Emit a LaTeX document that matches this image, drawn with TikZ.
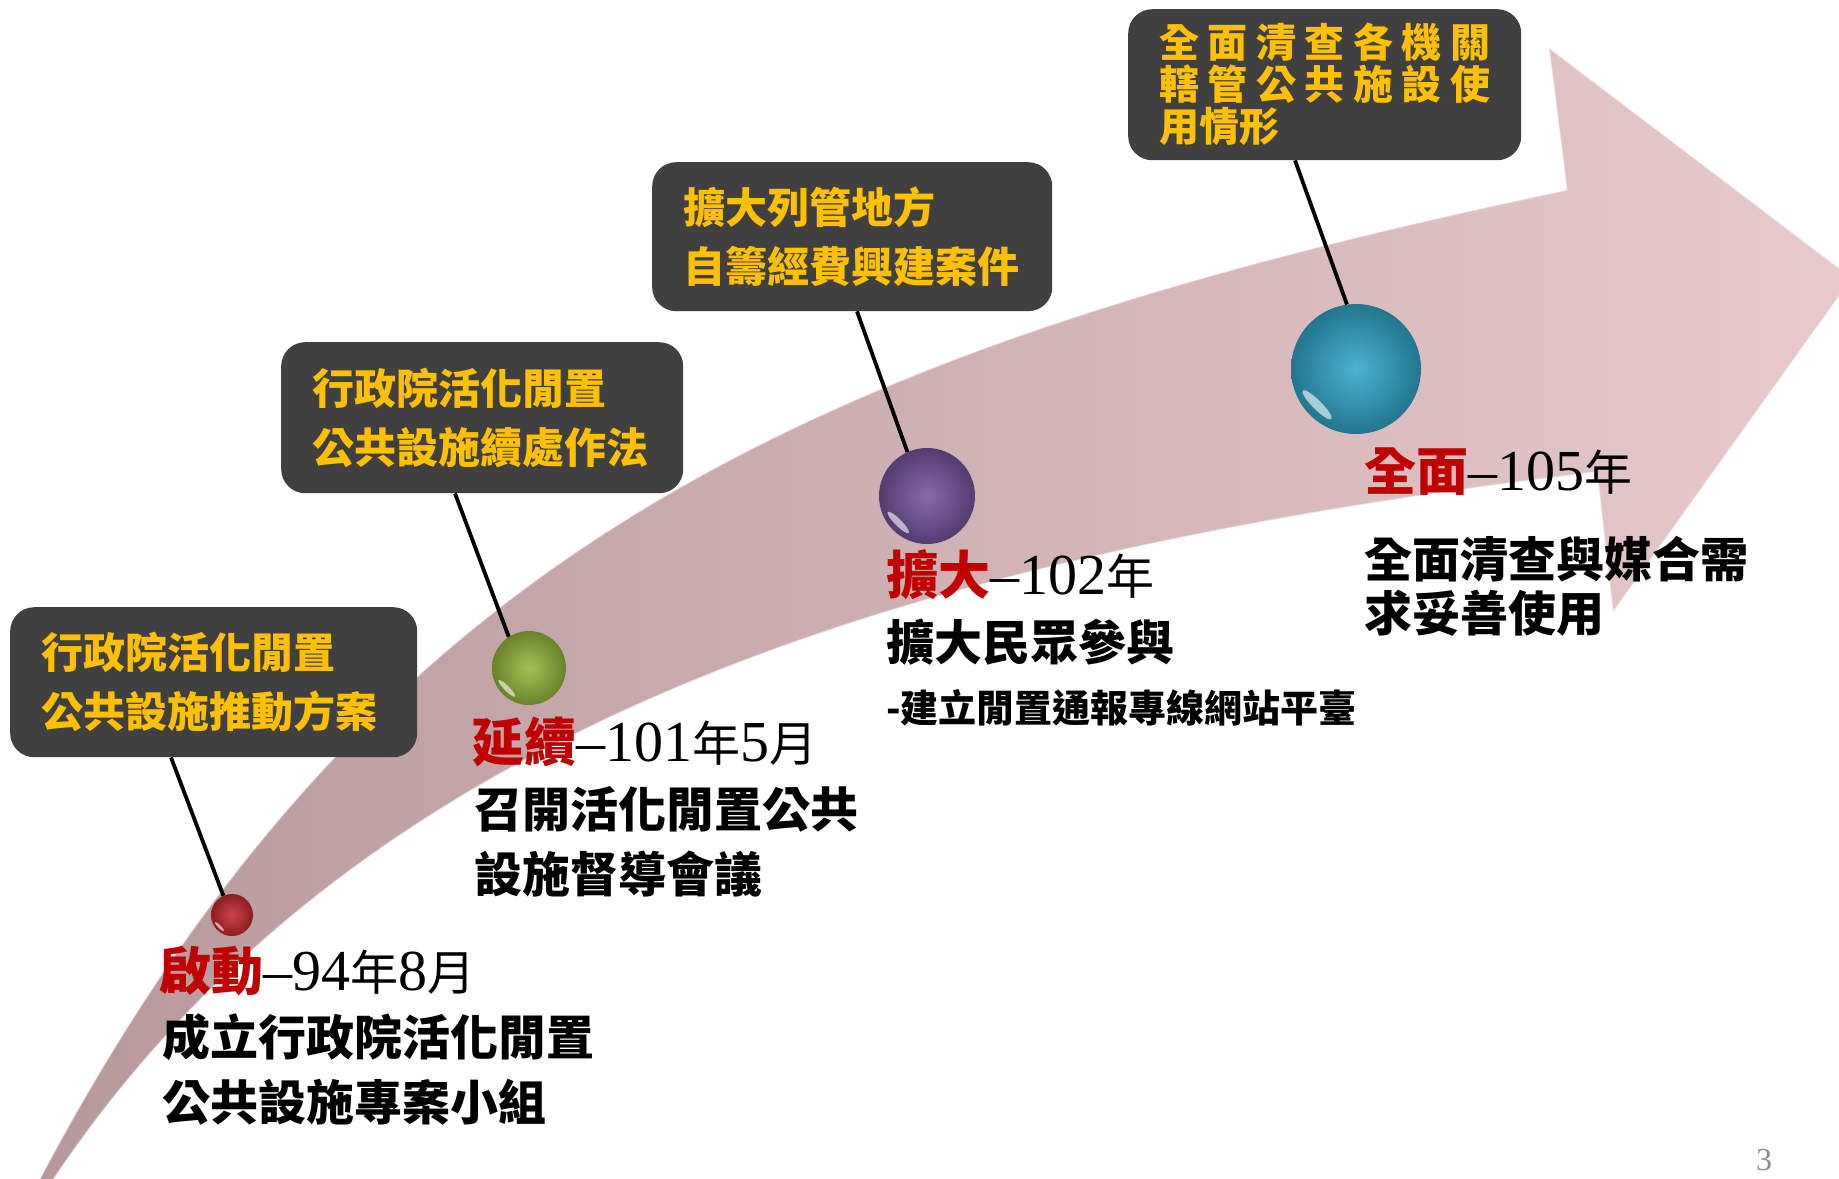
\documentclass[tikz,border=0pt]{standalone}
\usepackage{fontspec}
\setmainfont{Liberation Serif}
\newfontfamily\cjk{Noto Sans CJK TC}
\usetikzlibrary{shapes.geometric}
\definecolor{boxgray}{RGB}{64,64,64}
\definecolor{boxtext}{RGB}{255,192,0}
\definecolor{headred}{RGB}{192,0,0}
\definecolor{bandL}{RGB}{183,152,155}
\definecolor{bandR}{RGB}{232,202,205}
\definecolor{ballred}{RGB}{200,42,46}
\definecolor{ballgreen}{RGB}{150,186,60}
\definecolor{ballpurple}{RGB}{118,86,160}
\definecolor{ballcyan}{RGB}{50,168,203}
\definecolor{pagegray}{RGB}{140,140,140}
\newcommand{\bsp}{\hspace{8.5pt}}
\newcommand{\hdred}[1]{{\color{headred}\cjk\bfseries\fontsize{52}{52}\selectfont #1}}
\newcommand{\hdnum}[1]{{\fontsize{58}{58}\selectfont #1}}
\newcommand{\hdcj}[1]{{\cjk\fontsize{48}{48}\selectfont #1}}
\newcommand{\glossball}[5]{%
  \node[ballnode, minimum size=#4*2pt, inner color=#5!88!white, outer color=#5!70!black] (#1) at (#2,#3) {};
  \node[hilite, minimum width=#4*0.62pt, minimum height=#4*0.14pt, rotate=-45] (#1h) at ({#2-0.6*#4},{#3+0.55*#4}) {};
}
\tikzset{
  darkbox/.style={fill=boxgray, rounded corners=24pt, inner xsep=31pt, inner ysep=0pt,
    anchor=north west, align=left, text=boxtext, font=\cjk\bfseries\fontsize{42}{59}\selectfont},
  ballnode/.style={circle, inner sep=0pt, shading=radial},
  hilite/.style={ellipse, fill=white, fill opacity=0.6, inner sep=0pt},
  conn/.style={draw=black, line width=3.8pt},
  bodytxt/.style={anchor=base west, inner sep=0pt, font=\cjk\bfseries\fontsize{48}{48}\selectfont},
  headtxt/.style={anchor=base west, inner sep=0pt},
}
\begin{document}
\begin{tikzpicture}[x=1pt,y=-1pt]
\useasboundingbox (0,0) rectangle (1839,1178);
\clip (0,0) rectangle (1839,1178);
% arrow band
\shade[left color=bandL, right color=bandR, draw=white, draw opacity=0.45, line width=1.5pt]
  (33,1192) .. controls (361,565) and (785,354) .. (1567,190)
  -- (1549,48) -- (1852,278) -- (1613,612) -- (1597,472)
  .. controls (902,555) and (349,726) .. (45,1192) -- cycle;
% boxes
\node[darkbox, minimum width=407pt, minimum height=150pt, text width=345pt] (b1) at (10,607)
  {行政院活化閒置\\公共設施推動方案};
\node[darkbox, minimum width=402pt, minimum height=151pt, text width=340pt] (b2) at (281,342)
  {行政院活化閒置\\公共設施續處作法};
\node[darkbox, minimum width=400pt, minimum height=149pt, text width=338pt] (b3) at (652,162)
  {擴大列管地方\\自籌經費興建案件};
\node[darkbox, minimum width=393pt, minimum height=151pt, text width=331pt,
  font=\cjk\bfseries\fontsize{40}{42}\selectfont] (b4) at (1128,9)
  {全\bsp 面\bsp 清\bsp 查\bsp 各\bsp 機\bsp 關\\轄\bsp 管\bsp 公\bsp 共\bsp 施\bsp 設\bsp 使\\用情形};
% balls
\glossball{p1}{232}{915}{21}{ballred}
\glossball{p2}{529}{668}{37}{ballgreen}
\glossball{p3}{927}{496}{48}{ballpurple}
\glossball{p4}{1356}{369}{65}{ballcyan}
% connectors
\draw[conn] ([xshift=161pt]b1.south west) -- (p1.114);
\draw[conn] ([xshift=174pt]b2.south west) -- (p2.123);
\draw[conn] ([xshift=205pt]b3.south west) -- (p3.114);
\draw[conn] ([xshift=167pt]b4.south west) -- (p4.98);
% labels 1
\node[headtxt] (h1) at (159,990) {\hdred{啟動}\hdnum{–94}\hdcj{年}\hdnum{8}\hdcj{月}};
\node[bodytxt] (t1a) at (162,1055) {成立行政院活化閒置};
\node[bodytxt] (t1b) at (162,1120) {公共設施專案小組};
% labels 2
\node[headtxt] (h2) at (472,761) {\hdred{延續}\hdnum{–101}\hdcj{年}\hdnum{5}\hdcj{月}};
\node[bodytxt] (t2a) at (474,827) {召開活化閒置公共};
\node[bodytxt] (t2b) at (474,892) {設施督導會議};
% labels 3
\node[headtxt] (h3) at (886,594) {\hdred{擴大}\hdnum{–102}\hdcj{年}};
\node[bodytxt] (t3a) at (886,660) {擴大民眾參與};
\node[bodytxt, font=\cjk\bfseries\fontsize{38}{38}\selectfont] (t3b) at (886,722) {-建立閒置通報專線網站平臺};
% labels 4
\node[headtxt] (h4) at (1364,490) {\hdred{全面}\hdnum{–105}\hdcj{年}};
\node[bodytxt] (t4a) at (1364,577) {全面清查與媒合需};
\node[bodytxt] (t4b) at (1364,631) {求妥善使用};
% page number
\node[anchor=base, inner sep=0pt, text=pagegray, font=\fontsize{32}{32}\selectfont] (pg) at (1764,1170) {3};
\end{tikzpicture}
\end{document}
